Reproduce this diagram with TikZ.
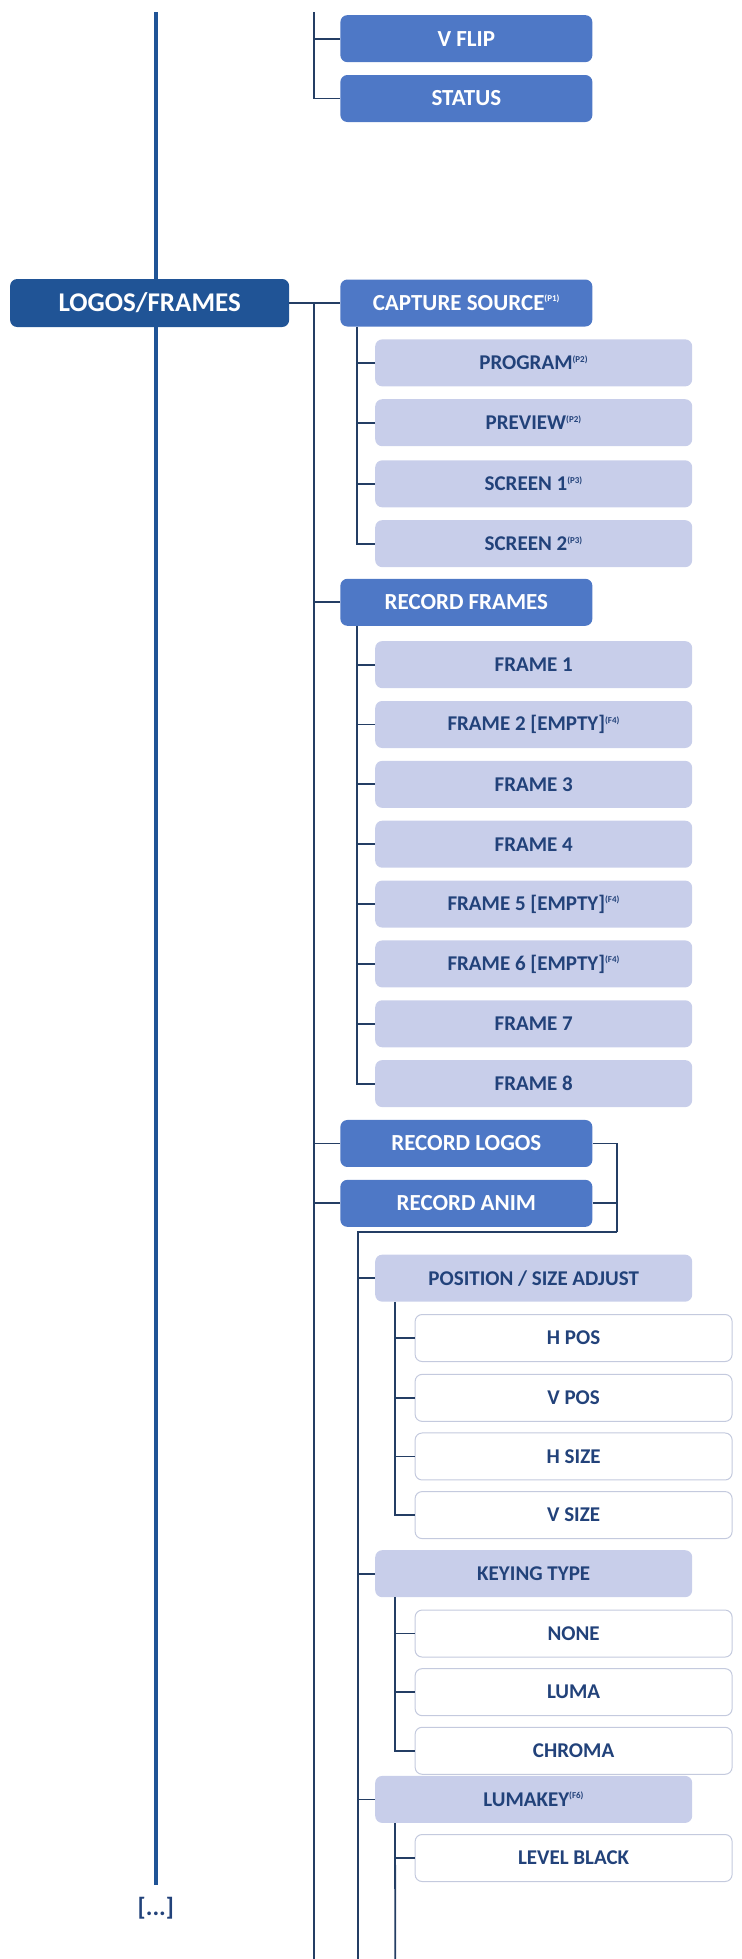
\documentclass[tikz,border=0pt]{standalone}
\usepackage{fontspec}
\setmainfont{Carlito}
\definecolor{darkblue}{RGB}{32,84,150}
\definecolor{midblue}{RGB}{78,120,198}
\definecolor{lightblue}{RGB}{200,206,234}
\definecolor{textblue}{RGB}{34,66,122}
\definecolor{linecol}{RGB}{36,62,100}
\definecolor{rimcol}{RGB}{196,202,222}
\newcommand{\fnote}[1]{\textsuperscript{\fontsize{9}{9}\selectfont(#1)}}
\begin{document}
\begin{tikzpicture}[
    x=1.247pt, y=-1.247pt,
    top/.style={rectangle, rounded corners=7pt, fill=darkblue, text=white, minimum width=279pt, minimum height=48pt, font=\bfseries\fontsize{27}{27}\selectfont},
    menu/.style={rectangle, rounded corners=7pt, fill=midblue, text=white, minimum width=252pt, minimum height=47pt, font=\bfseries\fontsize{23}{23}\selectfont},
    item/.style={rectangle, rounded corners=7pt, fill=lightblue, text=textblue, minimum width=317pt, minimum height=47pt, font=\bfseries\fontsize{21}{21}\selectfont},
    value/.style={rectangle, rounded corners=7pt, draw=rimcol, line width=1pt, fill=white, text=textblue, minimum width=317pt, minimum height=47pt, font=\bfseries\fontsize{21}{21}\selectfont},
    line/.style={draw=linecol, line width=1.8pt},
]
    \useasboundingbox (0,0) rectangle (595,1571);

    % Hauptlinie
    \coordinate (maintop) at (125,10);
    \coordinate (mainend) at (125,1512);
    \draw[line, draw=darkblue, line width=3.5pt] (maintop) -- (mainend);
    \node[font=\bfseries\fontsize{25}{25}\selectfont, text=textblue] (more) at (125,1530) {[...]};

    % Ebene 1
    \node[top] (logos) at (120,243) {LOGOS/FRAMES};

    % Ebene 2
    \node[menu] (vflip) at (374,31) {V FLIP};
    \node[menu] (status) at (374,79) {STATUS};
    \node[menu] (capture) at (374,243) {CAPTURE SOURCE\fnote{P1}};
    \node[menu] (recframes) at (374,483) {RECORD FRAMES};
    \node[menu] (reclogos) at (374,917) {RECORD LOGOS};
    \node[menu] (recanim) at (374,965) {RECORD ANIM};

    \coordinate (l2top) at (252,10);
    \coordinate (l2end) at (252,1571);
    \draw[line] (l2top) |- (status.west);
    \draw[line] (vflip.west) -- (vflip.west -| l2top);
    \draw[line] (logos.east) -- (capture.west);
    \draw[line] (logos.east -| l2top) -- (l2end);
    \foreach \n in {recframes, reclogos, recanim}
        \draw[line] (\n.west) -- (\n.west -| l2top);

    % Capture source
    \node[item] (program) at (428,291) {PROGRAM\fnote{P2}};
    \node[item] (preview) at (428,339) {PREVIEW\fnote{P2}};
    \node[item] (screena) at (428,388) {SCREEN 1\fnote{P3}};
    \node[item] (screenb) at (428,436) {SCREEN 2\fnote{P3}};
    \draw[line] ([xshift=17pt]capture.south west) |- (screenb.west);
    \foreach \n in {program, preview, screena}
        \draw[line] (\n.west) -- ++(-14,0);

    % Record frames
    \foreach \i/\t in {1/FRAME 1, 2/FRAME 2 [EMPTY]\fnote{F4}, 3/FRAME 3, 4/FRAME 4,
                       5/FRAME 5 [EMPTY]\fnote{F4}, 6/FRAME 6 [EMPTY]\fnote{F4}, 7/FRAME 7, 8/FRAME 8}
        \node[item] (frame\i) at (428,{485+48*\i}) {\t};
    \draw[line] ([xshift=17pt]recframes.south west) |- (frame8.west);
    \foreach \i in {1,...,7}
        \draw[line] (frame\i.west) -- ++(-14,0);

    % Record logos / anim
    \coordinate (bracket) at (495,988);
    \draw[line] (reclogos.east) -| (bracket);
    \draw[line] (recanim.east) -- (recanim.east -| bracket);
    \coordinate (l3end) at (287,1571);
    \draw[line] (bracket) -- (bracket -| l3end) -- (l3end);

    \node[item] (possize) at (428,1025) {POSITION / SIZE ADJUST};
    \node[item] (keying) at (428,1262) {KEYING TYPE};
    \node[item] (lumakey) at (428,1443) {LUMAKEY\fnote{F6}};
    \foreach \n in {possize, keying, lumakey}
        \draw[line] (\n.west) -- (\n.west -| l3end);

    % Werte
    \node[value] (hpos) at (460,1073) {H POS};
    \node[value] (vpos) at (460,1121) {V POS};
    \node[value] (hsize) at (460,1168) {H SIZE};
    \node[value] (vsize) at (460,1215) {V SIZE};
    \node[value] (none) at (460,1310) {NONE};
    \node[value] (luma) at (460,1357) {LUMA};
    \node[value] (chroma) at (460,1404) {CHROMA};
    \node[value] (lvlblack) at (460,1490) {LEVEL BLACK};

    \draw[line] ([xshift=20pt]possize.south west) |- (vsize.west);
    \foreach \n in {hpos, vpos, hsize}
        \draw[line] (\n.west) -- ++(-16,0);
    \draw[line] ([xshift=20pt]keying.south west) |- (chroma.west);
    \foreach \n in {none, luma}
        \draw[line] (\n.west) -- ++(-16,0);
    \coordinate (l4end) at (317,1571);
    \draw[line] ([xshift=20pt]lumakey.south west) -- (l4end);
    \draw[line] (lvlblack.west) -- (lvlblack.west -| l4end);
\end{tikzpicture}
\end{document}
